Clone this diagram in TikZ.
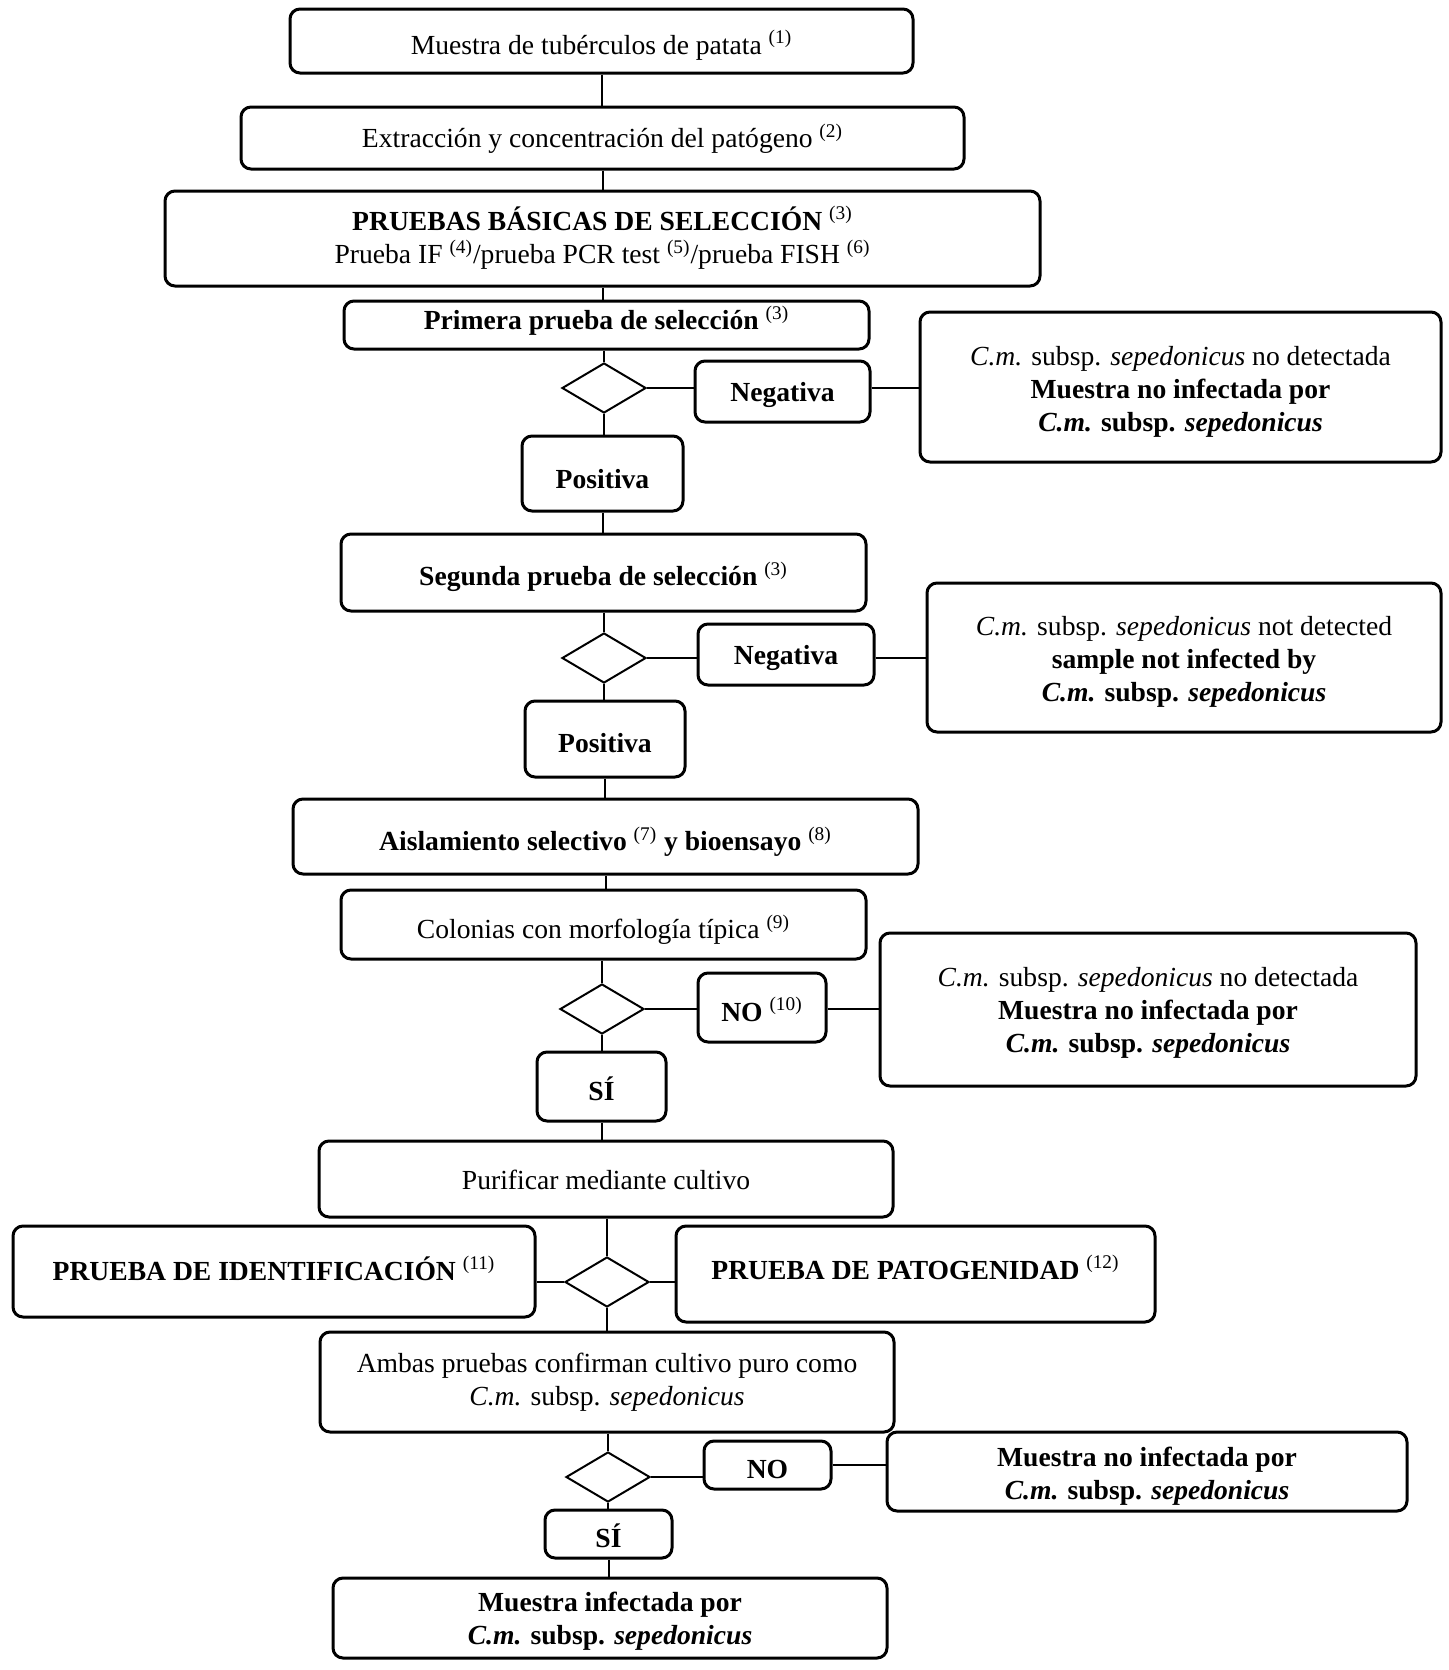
\documentclass[tikz,border=0pt]{standalone}
\usepackage{fontspec}
\setmainfont{Liberation Serif}
\usetikzlibrary{shapes.geometric}
\newcommand\ftn[1]{\textsuperscript{\mdseries\upshape (#1)}}
\newcommand\cmx{\textit{C.m.}}
\newcommand\oneln[2]{\raisebox{#1}[\height][\depth]{#2}}
\newcommand\multln[2]{\raisebox{#1}[\height][\depth]{\begin{tabular}{@{}c@{}}#2\end{tabular}}}
\tikzset{
 box/.style={draw, line width=1.5pt, rounded corners=5pt, inner sep=0pt, align=center, font=\fontsize{13.8}{16.5}\selectfont},
 dia/.style={draw, diamond, line width=1pt, inner sep=0pt, minimum width=42pt, minimum height=25pt},
 vl/.style={line width=1pt},
 hl/.style={line width=1.4pt},
}
\begin{document}
\begin{tikzpicture}[x=0.5pt,y=-0.5pt]
\useasboundingbox (0,0) rectangle (1449,1670);
\node[box, minimum width=311.5pt, minimum height=32pt] (b1) at (601.5,41) {\oneln{-2.1pt}{Muestra de tubérculos de patata \ftn{1}}};
\node[box, minimum width=361.5pt, minimum height=31pt] (b2) at (602.5,138) {\oneln{-0.5pt}{Extracción y concentración del patógeno \ftn{2}}};
\node[box, minimum width=437.5pt, minimum height=47.5pt] (b3) at (602.5,238.5) {\multln{-0.8pt}{\textbf{PRUEBAS BÁSICAS DE SELECCIÓN} \ftn{3}\\Prueba IF \ftn{4}/prueba PCR test \ftn{5}/prueba FISH \ftn{6}}};
\node[box, minimum width=262.5pt, minimum height=24pt] (b4) at (606.5,325) {\oneln{2.1pt}{\textbf{Primera prueba de selección} \ftn{3}}};
\node[dia] (d1) at (604,388) {};
\node[box, minimum width=87.5pt, minimum height=30.5pt] (n1) at (782.5,391.5) {\oneln{-1.6pt}{\textbf{Negativa}}};
\node[box, minimum width=260.5pt, minimum height=75pt] (r1) at (1180.5,387) {\multln{-2.3pt}{\cmx{} subsp. \textit{sepedonicus} no detectada\\\textbf{Muestra no infectada por}\\\textbf{\cmx{} subsp. \textit{sepedonicus}}}};
\node[box, minimum width=80.5pt, minimum height=37.5pt] (p1) at (602.5,473.5) {\oneln{-2.6pt}{\textbf{Positiva}}};
\node[box, minimum width=262.5pt, minimum height=38.5pt] (b5) at (603.5,572.5) {\oneln{-2.1pt}{\textbf{Segunda prueba de selección} \ftn{3}}};
\node[dia] (d2) at (604,658) {};
\node[box, minimum width=88pt, minimum height=30.5pt] (n2) at (786,654.5) {\oneln{-1.6pt}{\textbf{Negativa}}};
\node[box, minimum width=257pt, minimum height=74.5pt] (r2) at (1184,657.5) {\multln{-2.1pt}{\cmx{} subsp. \textit{sepedonicus} not detected\\\textbf{sample not infected by}\\\textbf{\cmx{} subsp. \textit{sepedonicus}}}};
\node[box, minimum width=80pt, minimum height=38pt] (p2) at (605,739) {\oneln{-2.1pt}{\textbf{Positiva}}};
\node[box, minimum width=312.5pt, minimum height=37.5pt] (b6) at (605.5,836.5) {\oneln{-2.6pt}{\textbf{Aislamiento selectivo} \ftn{7} \textbf{y bioensayo} \ftn{8}}};
\node[box, minimum width=262.5pt, minimum height=34.5pt] (b7) at (603.5,924.5) {\oneln{-2.6pt}{Colonias con morfología típica \ftn{9}}};
\node[dia] (d3) at (602,1009) {};
\node[box, minimum width=64pt, minimum height=34.5pt] (o1) at (762,1007.5) {\oneln{-1pt}{\textbf{NO} \ftn{10}}};
\node[box, minimum width=268pt, minimum height=76.5pt] (r3) at (1148,1009.5) {\multln{-1.8pt}{\cmx{} subsp. \textit{sepedonicus} no detectada\\\textbf{Muestra no infectada por}\\\textbf{\cmx{} subsp. \textit{sepedonicus}}}};
\node[box, minimum width=64.5pt, minimum height=34.5pt] (s1) at (601.5,1086.5) {\oneln{-1pt}{\textbf{SÍ}}};
\node[box, minimum width=287pt, minimum height=38pt] (b8) at (606,1179) {\oneln{-0.5pt}{Purificar mediante cultivo}};
\node[box, minimum width=261pt, minimum height=45.5pt] (id) at (274,1271.5) {\oneln{1.6pt}{\textbf{PRUEBA DE IDENTIFICACIÓN} \ftn{11}}};
\node[dia] (d4) at (607,1282) {};
\node[box, minimum width=239.5pt, minimum height=48pt] (pt) at (915.5,1274) {\oneln{3.2pt}{\textbf{PRUEBA DE PATOGENIDAD} \ftn{12}}};
\node[box, minimum width=287pt, minimum height=50pt] (b9) at (607,1382) {\multln{0pt}{Ambas pruebas confirman cultivo puro como\\\cmx{} subsp. \textit{sepedonicus}}};
\node[dia] (d5) at (608,1477) {};
\node[box, minimum width=63.5pt, minimum height=24pt] (o2) at (767.5,1465) {\oneln{-2.1pt}{\textbf{NO}}};
\node[box, minimum width=260pt, minimum height=39.5pt] (r4) at (1147,1471.5) {\multln{-2.3pt}{\textbf{Muestra no infectada por}\\\textbf{\cmx{} subsp. \textit{sepedonicus}}}};
\node[box, minimum width=63.5pt, minimum height=24pt] (s2) at (608.5,1534) {\oneln{-1pt}{\textbf{SÍ}}};
\node[box, minimum width=277pt, minimum height=40pt] (fn) at (610,1618) {\multln{-1.8pt}{\textbf{Muestra infectada por}\\\textbf{\cmx{} subsp. \textit{sepedonicus}}}};
% vertical connectors
\draw[vl] (b1.south) -- (b1.south |- b2.north);
\draw[vl] (b2.south) -- (b2.south |- b3.north);
\draw[vl] (b3.south) -- (b3.south |- b4.north);
\draw[vl] (d1.north |- b4.south) -- (d1.north);
\draw[vl] (d1.south) -- (d1.south |- p1.north);
\draw[vl] (p1.south) -- (p1.south |- b5.north);
\draw[vl] (d2.north |- b5.south) -- (d2.north);
\draw[vl] (d2.south) -- (d2.south |- p2.north);
\draw[vl] (p2.south) -- (p2.south |- b6.north);
\draw[vl] (b6.south) -- (b6.south |- b7.north);
\draw[vl] (d3.north |- b7.south) -- (d3.north);
\draw[vl] (d3.south) -- (d3.south |- s1.north);
\draw[vl] (s1.south) -- (s1.south |- b8.north);
\draw[vl] (d4.north |- b8.south) -- (d4.north);
\draw[vl] (d4.south) -- (d4.south |- b9.north);
\draw[vl] (d5.north |- b9.south) -- (d5.north);
\draw[vl] (d5.south) -- (d5.south |- s2.north);
\draw[vl] (s2.south) -- (s2.south |- fn.north);
% horizontal connectors
\draw[hl] (d1.east) -- (d1.east -| n1.west);
\draw[hl] (n1.east |- d1.east) -- (d1.east -| r1.west);
\draw[hl] (d2.east) -- (d2.east -| n2.west);
\draw[hl] (n2.east |- d2.east) -- (d2.east -| r2.west);
\draw[hl] (d3.east) -- (d3.east -| o1.west);
\draw[hl] (o1.east |- d3.east) -- (d3.east -| r3.west);
\draw[hl] (d4.west) -- (d4.west -| id.east);
\draw[hl] (d4.east) -- (d4.east -| pt.west);
\draw[hl] (d5.east) -- (d5.east -| o2.west);
\draw[hl] (o2.east) -- (o2.east -| r4.west);
\end{tikzpicture}
\end{document}
